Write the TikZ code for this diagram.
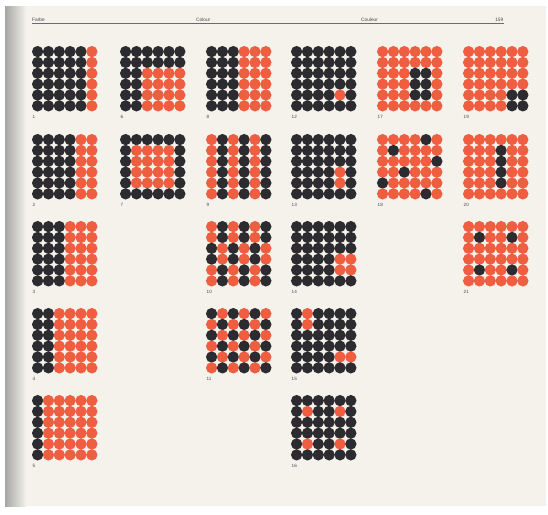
\documentclass[tikz,border=0pt]{standalone}
\usepackage{fontspec}
\setmainfont{Liberation Sans}
\definecolor{inkB}{RGB}{44,43,48}
\definecolor{inkR}{RGB}{239,94,64}
\definecolor{paper}{RGB}{244,242,235}
\definecolor{txt}{RGB}{70,70,72}
\tikzset{
  lbl/.style={anchor=base west,inner sep=0pt,font=\fontsize{4.6}{5}\selectfont,text=txt},
  hdr/.style={anchor=base west,inner sep=0pt,font=\fontsize{4.8}{5}\selectfont,text=txt},
  rulel/.style={draw=txt!80,line width=0.8pt}
}
\newcommand\drawone[2]{%
  \if#2B\def\dc{inkB}\else\def\dc{inkR}\fi
  \fill[\dc] ({\gx+5.6+#1*10.85},{\gy+5.6+\gr*10.85}) circle[radius=5.65pt];}
\newcommand\drawrowchars[6]{%
  \drawone{0}{#1}\drawone{1}{#2}\drawone{2}{#3}\drawone{3}{#4}\drawone{4}{#5}\drawone{5}{#6}}
\newcommand\dotgrid[9]{%
  \def\gx{#1}\def\gy{#2}%
  \def\gr{0}\drawrowchars#4%
  \def\gr{1}\drawrowchars#5%
  \def\gr{2}\drawrowchars#6%
  \def\gr{3}\drawrowchars#7%
  \def\gr{4}\drawrowchars#8%
  \def\gr{5}\drawrowchars#9%
  \node[lbl] (lab#3) at ({#1+0.5},{#2+72.5}) {#3};}
\begin{document}
\begin{tikzpicture}[x=1pt,y=-1pt]
\useasboundingbox (0,0) rectangle (548,514);
\fill[white] (0,0) rectangle (548,514);
\fill[paper] (5,6) rectangle (546,506);
\shade[left color=black!35, right color=paper] (5,6) rectangle (26,506);
% header
\node[hdr] (farbe) at (32,21.3) {Farbe};
\node[hdr] (colour) at (196,21.3) {Colour};
\node[hdr] (couleur) at (361,21.3) {Couleur};
\node[hdr,anchor=base east] (page) at (503.5,21.3) {159};
\coordinate (rl) at (32,23.6);
\coordinate (rr) at (504,23.6);
\draw[rulel] (rl) -- (rr);
% row 1
\dotgrid{32}{46}{1}{BBBBBR}{BBBBBR}{BBBBBR}{BBBBBR}{BBBBBR}{BBBBBR}
\dotgrid{120}{46}{6}{BBBBBB}{BBBBBB}{BBRRRR}{BBRRRR}{BBRRRR}{BBRRRR}
\dotgrid{206}{46}{8}{BBBRRR}{BBBRRR}{BBBRRR}{BBBRRR}{BBBRRR}{BBBRRR}
\dotgrid{291}{46}{12}{BBBBBB}{BBBBBB}{BBBBBB}{BBBBBB}{BBBBRB}{BBBBBB}
\dotgrid{377}{46}{17}{RRRRRR}{RRRRRR}{RRRBBR}{RRRBBR}{RRRBBR}{RRRRRR}
\dotgrid{463}{46}{19}{RRRRRR}{RRRRRR}{RRRRRR}{RRRRRR}{RRRRBB}{RRRRBB}
% row 2
\dotgrid{32}{134}{2}{BBBBRR}{BBBBRR}{BBBBRR}{BBBBRR}{BBBBRR}{BBBBRR}
\dotgrid{120}{134}{7}{BBBBBB}{BRRRRB}{BRRRRB}{BRRRRB}{BRRRRB}{BBBBBB}
\dotgrid{206}{134}{9}{RBRBRB}{RBRBRB}{RBRBRB}{RBRBRB}{RBRBRB}{RBRBRB}
\dotgrid{291}{134}{13}{BBBBBB}{BBBBBB}{BBBBBB}{BBBBRB}{BBBBRB}{BBBBBB}
\dotgrid{377}{134}{18}{RRRRBR}{RBRRRR}{RRRRRB}{RRBRRR}{BRRRRR}{RRRRBR}
\dotgrid{463}{134}{20}{RRRRRR}{RRRBRR}{RRRBRR}{RRRBRR}{RRRBRR}{RRRRRR}
% row 3
\dotgrid{32}{221}{3}{BBBRRR}{BBBRRR}{BBBRRR}{BBBRRR}{BBBRRR}{BBBRRR}
\dotgrid{206}{221}{10}{RBRBRB}{RBRBRB}{BRBRBR}{BRBRBR}{RBRBRB}{RBRBRB}
\dotgrid{291}{221}{14}{BBBBBB}{BBBBBB}{BBBBBB}{BBBBRR}{BBBBRR}{BBBBBB}
\dotgrid{463}{221}{21}{RRRRRR}{RBRRBR}{RRRRRR}{RRRRRR}{RBRRBR}{RRRRRR}
% row 4
\dotgrid{32}{308}{4}{BBRRRR}{BBRRRR}{BBRRRR}{BBRRRR}{BBRRRR}{BBRRRR}
\dotgrid{206}{308}{11}{BRBRBR}{RBRBRB}{BRBRBR}{RBRBRB}{BRBRBR}{RBRBRB}
\dotgrid{291}{308}{15}{BRBBBB}{BRBBBB}{BBBBBB}{BBBBBB}{BBBBRR}{BBBBBB}
% row 5
\dotgrid{32}{395}{5}{BRRRRR}{BRRRRR}{BRRRRR}{BRRRRR}{BRRRRR}{BRRRRR}
\dotgrid{291}{395}{16}{BBBBBB}{BRBBRB}{BBBBBB}{BBBBBB}{BRBBRB}{BBBBBB}
\end{tikzpicture}
\end{document}
